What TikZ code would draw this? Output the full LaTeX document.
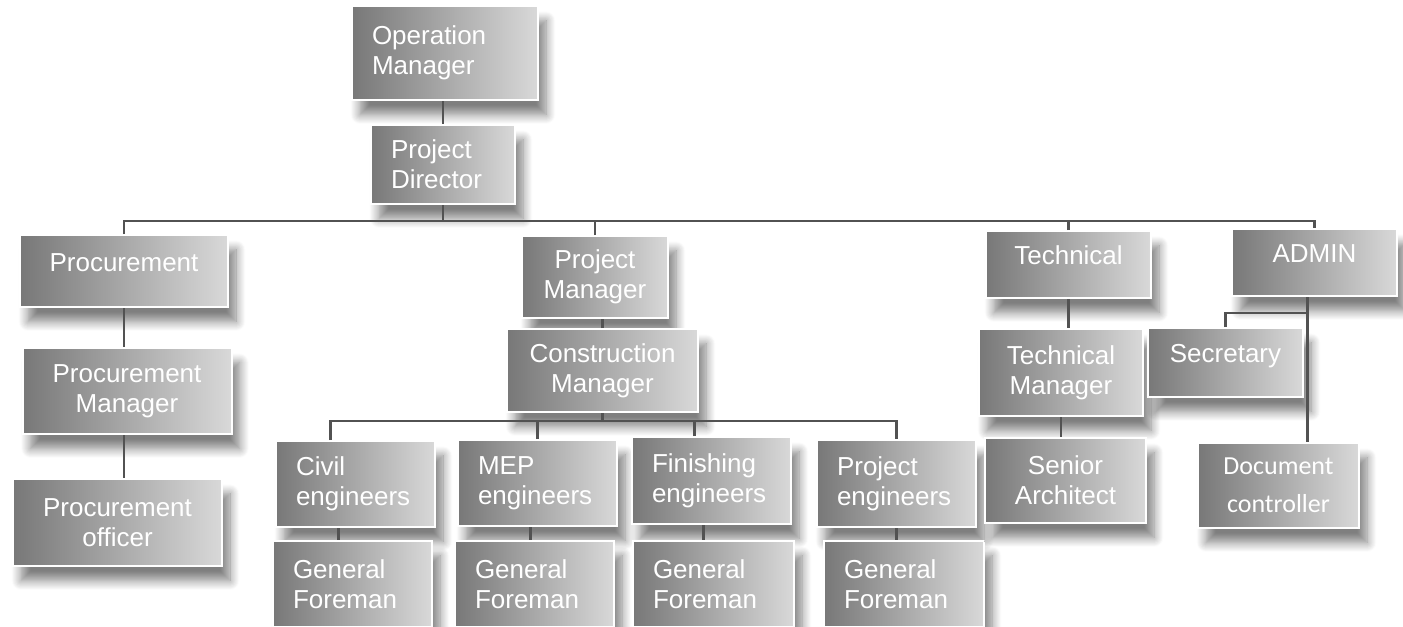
\documentclass[tikz,border=0pt]{standalone}
\usepackage{fontspec}
\setmainfont{Liberation Sans}
\newfontfamily\docfont{Carlito}
\usetikzlibrary{calc,shadows.blur}

\tikzset{every picture/.style={line width=0.75pt}}
\tikzset{
  unit/.style={draw=white, line width=1.5pt, left color=black!53, right color=black!15,
    text=white, inner ysep=0pt, font=\fontsize{19.5}{22.5}\selectfont,
    blur shadow={shadow xshift=6pt, shadow yshift=-11pt, shadow opacity=50,
      shadow blur radius=7pt, shadow blur steps=10}},
  lunit/.style={unit, align=left, inner xsep=15pt, text width=#1},
  cunit/.style={unit, align=center, inner xsep=0pt, minimum width=#1},
  oneline/.style={text height=16pt, text depth=16pt},
  conn/.style={draw=black!68, line width=1.6pt}
}

\begin{document}
\begin{tikzpicture}[x=0.75pt,y=0.75pt,yscale=-1,xscale=1]
\useasboundingbox (0,0) rectangle (1403,626);
\clip (0,0) rectangle (1403,626);

% Text Node
\node[lunit=109.5pt, minimum height=70.5pt] (om) at (445,53) {Operation\\Manager};
% Text Node
\node[lunit=78pt, minimum height=59.25pt] (pd) at (443,164.5) {Project\\Director};
% Text Node
\node[cunit=156pt, minimum height=54pt, oneline] (proc) at (124,271) {Procurement};
% Text Node
\node[cunit=156.75pt, minimum height=64.5pt] (pcm) at (127,391) {Procurement\\Manager};
% Text Node
\node[cunit=156.75pt, minimum height=65.25pt] (pco) at (117.5,522.5) {Procurement\\officer};
% Text Node
\node[cunit=109.5pt, minimum height=61.5pt] (prm) at (595,277) {Project\\Manager};
% Text Node
\node[cunit=143.25pt, minimum height=62.25pt] (cm) at (602.5,370.5) {Construction\\Manager};
% Text Node
\node[lunit=89.25pt, minimum height=64.5pt] (civ) at (355.5,484) {Civil\\engineers};
% Text Node
\node[lunit=89.25pt, minimum height=64.5pt] (mep) at (537.5,483) {MEP\\engineers};
% Text Node
\node[lunit=89.25pt, minimum height=65.25pt] (fin) at (711.5,480.5) {Finishing\\engineers};
% Text Node
\node[lunit=89.25pt, minimum height=65.25pt] (pen) at (896.5,483.5) {Project\\engineers};
% Text Node
\node[lunit=89.25pt, minimum height=64.5pt] (gfa) at (352.5,584) {General\\Foreman};
% Text Node
\node[lunit=89.25pt, minimum height=64.5pt] (gfb) at (534.5,584) {General\\Foreman};
% Text Node
\node[lunit=90.75pt, minimum height=64.5pt] (gfc) at (713.5,584) {General\\Foreman};
% Text Node
\node[lunit=90pt, minimum height=64.5pt] (gfd) at (904,584) {General\\Foreman};
% Text Node
\node[cunit=123.75pt, minimum height=50.25pt, oneline] (tech) at (1068.5,264.5) {Technical};
% Text Node
\node[cunit=123pt, minimum height=65.25pt] (tm) at (1061,372.5) {Technical\\Manager};
% Text Node
\node[cunit=120.75pt, minimum height=63.75pt] (sa) at (1065.5,480.5) {Senior\\Architect};
% Text Node
\node[cunit=123.75pt, minimum height=50.25pt, oneline] (adm) at (1314.5,262.5) {ADMIN};
% Text Node
\node[cunit=116.25pt, minimum height=51.75pt, oneline] (sec) at (1225.5,362.5) {Secretary};
% Text Node
\node[cunit=120.75pt, minimum height=63.75pt, font=\docfont\fontsize{19.5}{28.5}\selectfont] (dc) at (1278.5,485.5) {Document\\controller};

\coordinate (bus) at (0,221);
\coordinate (cbus) at (0,421);

% Connection
\draw[conn] (om.south -| pd.north) -- (pd.north) ;
% Connection
\draw[conn] (pd.south) -- (pd.south |- bus) ;
% Connection
\draw[conn] (proc.north) -- (proc.north |- bus) -- (adm.north |- bus) -- (adm.north) ;
% Connection
\draw[conn] (prm.north) -- (prm.north |- bus) ;
% Connection
\draw[conn] (tech.north) -- (tech.north |- bus) ;
% Connection
\draw[conn] (proc.south) -- (proc.south |- pcm.north) ;
% Connection
\draw[conn] (pcm.south -| proc.south) -- (proc.south |- pco.north) ;
% Connection
\draw[conn] (cm.north) -- (cm.north |- prm.south) ;
% Connection
\draw[conn] (cm.south) -- (cm.south |- cbus) ;
% Connection
\draw[conn] ($(civ.north)+(-25,0)$) -- ($(civ.north |- cbus)+(-25,0)$) -- (pen.north |- cbus) -- (pen.north) ;
% Connection
\draw[conn] (mep.north) -- (mep.north |- cbus) ;
% Connection
\draw[conn] ($(fin.north)+(-17,0)$) -- ($(fin.north |- cbus)+(-17,0)$) ;
% Connection
\draw[conn] ($(civ.south)+(-17,0)$) -- ($(civ.south |- gfa.north)+(-17,0)$) ;
% Connection
\draw[conn] ($(mep.south)+(-7,0)$) -- ($(mep.south |- gfb.north)+(-7,0)$) ;
% Connection
\draw[conn] ($(fin.south)+(-8,0)$) -- ($(fin.south |- gfc.north)+(-8,0)$) ;
% Connection
\draw[conn] (pen.south) -- (pen.south |- gfd.north) ;
% Connection
\draw[conn] (tech.south) -- (tech.south |- tm.north) ;
% Connection
\draw[conn] (tm.south) -- (tm.south |- sa.north) ;
% Connection
\draw[conn] ($(adm.south)+(-7,0)$) -- ($(adm.south |- dc.north)+(-7,0)$) ;
% Connection
\draw[conn] (sec.north) |- ($(adm.south)+(-7,16)$) ;

\end{tikzpicture}
\end{document}
